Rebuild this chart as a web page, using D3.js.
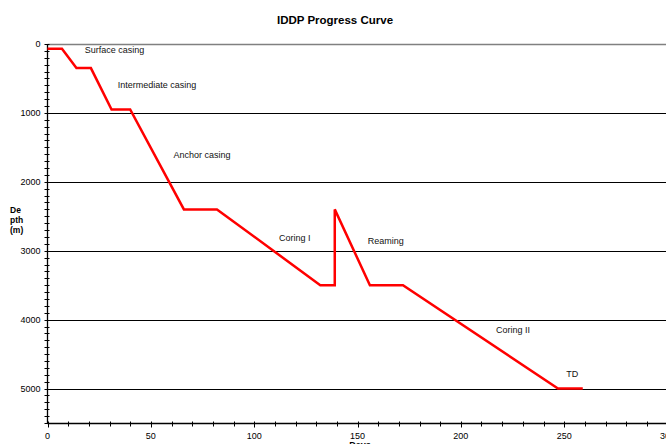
<!DOCTYPE html>
<html>
<head>
<meta charset="utf-8">
<script src="https://cdn.jsdelivr.net/npm/d3@7"></script>
<style>
  body { margin: 0; background: #fff; }
  svg { font-family: Arial, "Liberation Sans", sans-serif; }
</style>
</head>
<body>
<svg></svg>
<script>
// progress curve points (days, depth in m)
var days  = [0, 7, 14, 21, 31, 40, 66, 82, 132, 139, 139, 156, 172, 247, 259]
var depth = [70, 70, 350, 350, 950, 950, 2400, 2400, 3500, 3500, 2400, 3500, 3500, 5000, 5000]

// phase labels and where they sit (days, depth)
var phaseNames = ['Surface casing', 'Intermediate casing', 'Anchor casing', 'Coring I', 'Reaming', 'Coring II', 'TD']
var phaseDays  = [18, 34, 61, 112, 155, 217, 251]
var phaseDepth = [130, 640, 1660, 2860, 2900, 4200, 4830]

var xTicks = [0, 50, 100, 150, 200, 250, 300]
var yTicks = [0, 1000, 2000, 3000, 4000, 5000]

var width = 666, height = 444
var margin = {top: 44, left: 47.5, right: -1.5, bottom: 21}

var svg = d3.select('svg')
    .attr('width', width)
    .attr('height', height)

var x = d3.scaleLinear()
    .domain([0, 300])
    .range([margin.left, width - margin.right])

var y = d3.scaleLinear()
    .domain([0, 5500])
    .range([margin.top, height - margin.bottom])

// title
svg.append('text')
    .attr('x', 335)
    .attr('y', 24)
    .attr('text-anchor', 'middle')
    .style('font-size', '11.5px')
    .style('font-weight', 'bold')
    .text('IDDP Progress Curve')

// gridlines
svg.append('g')
  .selectAll('line')
  .data(yTicks)
  .enter()
  .append('line')
    .attr('x1', x(0))
    .attr('x2', x(300))
    .attr('y1', (d) => Math.round(y(d)) + 0.5)
    .attr('y2', (d) => Math.round(y(d)) + 0.5)
    .attr('stroke', (d) => d == 0 ? '#808080' : '#000')
    .attr('stroke-width', (d) => d == 0 ? 1.5 : 1)

// y axis with minor ticks every 100 m
var yMinor = d3.range(0, 5501, 100)
var yAxis = svg.append('g')
yAxis.append('line')
    .attr('x1', x(0)).attr('x2', x(0))
    .attr('y1', y(0)).attr('y2', y(5500))
    .attr('stroke', '#000')
    .attr('stroke-width', 1.3)
yAxis.selectAll('.minor')
  .data(yMinor)
  .enter()
  .append('line')
    .attr('x1', x(0) - 3).attr('x2', x(0) + 2)
    .attr('y1', (d) => Math.round(y(d)) + 0.5)
    .attr('y2', (d) => Math.round(y(d)) + 0.5)
    .attr('stroke', '#000')
yAxis.selectAll('text')
  .data(yTicks)
  .enter()
  .append('text')
    .attr('x', x(0) - 7)
    .attr('y', (d) => y(d))
    .attr('dy', '0.35em')
    .attr('text-anchor', 'end')
    .style('font-size', '9px')
    .text((d) => d)

// x axis with minor ticks every 10 days
var xMinor = d3.range(0, 301, 10)
var xAxis = svg.append('g')
var axisY = Math.round(y(5500)) + 0.5
xAxis.append('line')
    .attr('x1', x(0)).attr('x2', x(300))
    .attr('y1', axisY).attr('y2', axisY)
    .attr('stroke', '#000')
    .attr('stroke-width', 1.3)
xAxis.selectAll('.minor')
  .data(xMinor)
  .enter()
  .append('line')
    .attr('x1', (d) => Math.round(x(d)) + 0.5)
    .attr('x2', (d) => Math.round(x(d)) + 0.5)
    .attr('y1', axisY - 2)
    .attr('y2', (d) => d % 50 == 0 ? axisY + 4 : axisY + 3)
    .attr('stroke', '#000')
xAxis.selectAll('text')
  .data(xTicks)
  .enter()
  .append('text')
    .attr('x', (d) => x(d))
    .attr('y', axisY + 15)
    .attr('text-anchor', 'middle')
    .style('font-size', '9px')
    .text((d) => d)

// axis titles
svg.append('text')
    .attr('x', 360)
    .attr('y', 448)
    .attr('text-anchor', 'middle')
    .style('font-size', '9px')
    .style('font-weight', 'bold')
    .text('Days')

var yTitle = svg.append('text')
    .style('font-size', '8.5px')
    .style('font-weight', 'bold')
yTitle.selectAll('tspan')
  .data(['De', 'pth', '(m)'])
  .enter()
  .append('tspan')
    .attr('x', 10)
    .attr('y', (d, i) => 213 + i * 10)
    .text((d) => d)

// the progress curve
var pts = days.map((d, i) => [d, depth[i]])
var line = d3.line()
    .x((d) => x(d[0]))
    .y((d) => y(d[1]))

svg.append('path')
    .datum(pts)
    .attr('d', line)
    .attr('fill', 'none')
    .attr('stroke', '#ff0000')
    .attr('stroke-width', 2.5)
    .attr('stroke-linejoin', 'miter')

// phase labels
svg.append('g')
  .selectAll('text')
  .data(phaseNames)
  .enter()
  .append('text')
    .attr('x', (d, i) => x(phaseDays[i]))
    .attr('y', (d, i) => y(phaseDepth[i]))
    .style('font-size', '9px')
    .attr('fill', '#111')
    .text((d) => d)
</script>
</body>
</html>
